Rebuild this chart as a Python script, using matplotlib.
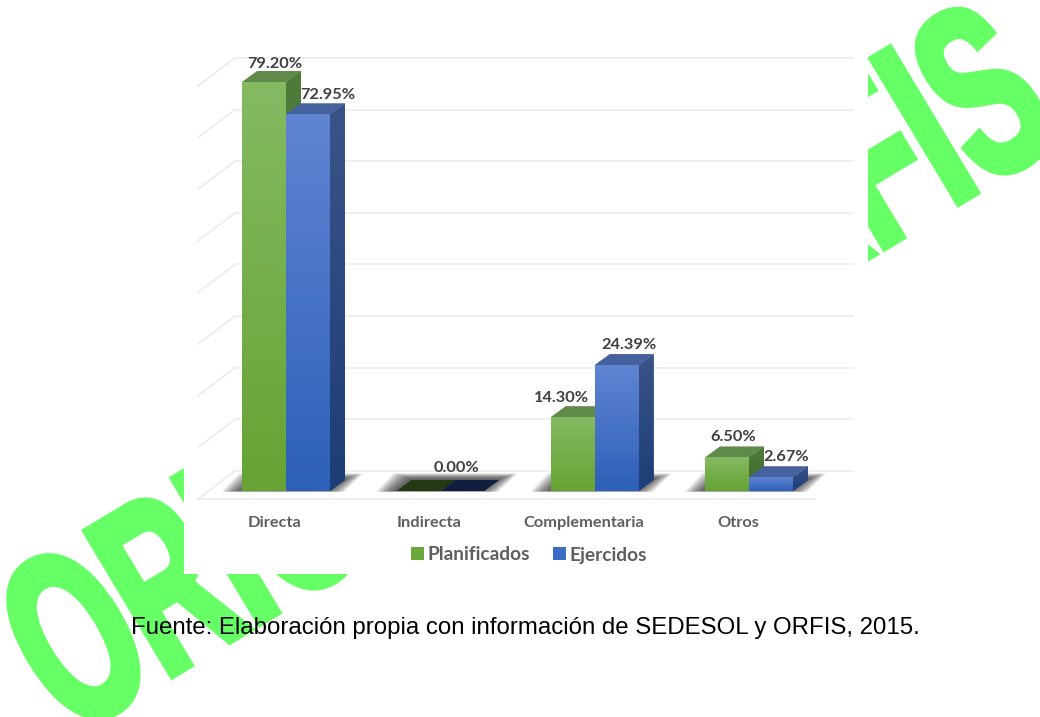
import numpy as np
from matplotlib import pyplot as plt
from matplotlib.colors import LinearSegmentedColormap
from matplotlib.patches import Polygon, Rectangle
from matplotlib.patheffects import AbstractPathEffect
from matplotlib.transforms import Affine2D

categories = ["Directa", "Indirecta", "Complementaria", "Otros"]
planificados = [79.20, 0.00, 14.30, 6.50]
ejercidos = [72.95, 0.00, 24.39, 2.67]
series_names = ["Planificados", "Ejercidos"]
grid_ticks = [0, 10, 20, 30, 40, 50, 60, 70, 80]
caption = "Fuente: Elaboración propia con información de SEDESOL y ORFIS, 2015."
watermark = "ORIGINAL ORFIS"

# scale of the picture, pixels per category and per percent
PX_X = 154.33
PX_Y = 5.164
W, H = 1040, 717
X0, Y0 = 286, 491

BAR_W = 44 / PX_X
DEPTH_X = 15 / PX_X
DEPTH_Y = 11 / PX_Y

GREEN = {"top": "#5f8a4a", "side": ("#4f7c3a", "#3f6a2a"), "front": ("#84ba62", "#66a334"), "zero": "#233a14"}
BLUE = {"top": "#46629e", "side": ("#3a5488", "#1d3d78"), "front": ("#5f84d2", "#2d60b8"), "zero": "#111f3f"}
GRID = "#ececec"
WM_GREEN = "#66ff66"
LABEL = "#404040"
AXIS_TEXT = "#5f5f5f"
FONT = "Lato"


class StretchedText(AbstractPathEffect):
    # WordArt style text: squeezed along the baseline and thickened
    def __init__(self, sx, stroke):
        super().__init__()
        self.sx = sx
        self.stroke = stroke

    def draw_path(self, renderer, gc, tpath, affine, rgbFace=None):
        gc0 = renderer.new_gc()
        gc0.copy_properties(gc)
        gc0.set_linewidth(self.stroke)
        gc0.set_foreground(rgbFace)
        gc0.set_joinstyle("miter")
        renderer.draw_path(gc0, tpath, Affine2D().scale(self.sx, 1) + affine, rgbFace)
        gc0.restore()


def gradient(ax, clip, x0, x1, y0, y1, top, bottom, zorder):
    cmap = LinearSegmentedColormap.from_list("g", [bottom, top])
    im = ax.imshow(np.linspace(1, 0, 64).reshape(-1, 1), cmap=cmap, vmin=0, vmax=1,
                   extent=(x0, x1, y0, y1), aspect="auto", zorder=zorder)
    im.set_clip_path(clip)


def shadow(ax, left, right):
    # soft dark footprint on the floor
    n = 14
    for k in range(n):
        pad_x = (n - k) * 1.3 / PX_X
        pad_y = (n - k) * 0.4 / PX_Y
        pts = [(left - pad_x - 2 / PX_X, -pad_y * 0.15), (right + pad_x - 4 / PX_X, -pad_y * 0.15),
               (right + pad_x + DEPTH_X, DEPTH_Y * 1.1 + pad_y), (left - pad_x + DEPTH_X, DEPTH_Y * 1.1 + pad_y)]
        ax.add_patch(Polygon(pts, closed=True, fc="#202020", ec="none", alpha=0.075, zorder=2))


def bar_3d(ax, x, val, style, zorder):
    top = [(x, val), (x + BAR_W, val), (x + BAR_W + DEPTH_X, val + DEPTH_Y), (x + DEPTH_X, val + DEPTH_Y)]
    if val == 0:
        ax.add_patch(Polygon(top, closed=True, fc=style["zero"], ec="none", zorder=zorder))
        return
    side = [(x + BAR_W, 0), (x + BAR_W + DEPTH_X, DEPTH_Y), (x + BAR_W + DEPTH_X, val + DEPTH_Y), (x + BAR_W, val)]
    side_patch = Polygon(side, closed=True, fc=style["side"][1], ec="none", zorder=zorder)
    ax.add_patch(side_patch)
    gradient(ax, side_patch, x + BAR_W, x + BAR_W + DEPTH_X, 0, val + DEPTH_Y, style["side"][0], style["side"][1], zorder + 0.1)
    ax.add_patch(Polygon(top, closed=True, fc=style["top"], ec="none", zorder=zorder + 0.2))
    front = ax.bar(x, val, BAR_W, align="edge", color=style["front"][1], zorder=zorder + 0.3)[0]
    gradient(ax, front, x, x + BAR_W, 0, val, style["front"][0], style["front"][1], zorder + 0.4)


fig = plt.figure(figsize=(W / 100, H / 100), dpi=100)

# background layer in pixels: watermark, white chart panel and caption
bg = fig.add_axes([0, 0, 1, 1], zorder=0)
bg.set_xlim(0, W)
bg.set_ylim(H, 0)
bg.axis("off")
bg.text(70, 737, watermark, color=WM_GREEN, fontsize=176, fontweight="bold", family="Liberation Sans",
        rotation=31, rotation_mode="anchor", ha="left", va="baseline", clip_on=False, zorder=1,
        path_effects=[StretchedText(0.579, 5.2)])
bg.add_patch(Rectangle((184, 0), 684, 574, fc="white", ec="none", zorder=2))
bg.text(131, 628, caption, color="black", fontsize=17.3, family="Liberation Sans", ha="left", va="center", zorder=3)

# chart layer, data units
ax = fig.add_axes([0, 0, 1, 1], zorder=1)
ax.patch.set_alpha(0)
ax.axis("off")

wall_dx, wall_dy = 37 / PX_X, 28 / PX_Y
wall_y = 20 / PX_Y
x_left = (198 - X0) / PX_X
x_right = (853 - X0) / PX_X
for g in grid_ticks:
    y = g + wall_y
    ax.plot([x_left + wall_dx, x_right], [y, y], color=GRID, lw=1.2, zorder=1)
    ax.plot([x_left, x_left + wall_dx], [y - wall_dy, y], color=GRID, lw=1.2, zorder=1)
ax.plot([x_left, (815 - X0) / PX_X], [wall_y - wall_dy, wall_y - wall_dy], color=GRID, lw=1.2, zorder=1)

for i in range(len(categories)):
    shadow(ax, i - BAR_W, i + BAR_W)
    bar_3d(ax, i - BAR_W, planificados[i], GREEN, 3)
    bar_3d(ax, i, ejercidos[i], BLUE, 4)

# label offsets from the front top centre of each bar, in pixels
green_dx = [11, 0, -11, 6]
blue_dx = [20, -6, 12, 15]
green_dy = [18, 0, 19, 20]
blue_dy = [19, 23, 20, 20]
for i, (p, e) in enumerate(zip(planificados, ejercidos)):
    if p != 0:
        ax.annotate(f"{p:.2f}%", (i - BAR_W / 2, p), xytext=(green_dx[i], green_dy[i]), textcoords="offset pixels",
                    ha="center", va="center", color=LABEL, fontsize=11.8, fontweight="bold", family=FONT, zorder=8)
    ax.annotate(f"{e:.2f}%", (i + BAR_W / 2, e), xytext=(blue_dx[i], blue_dy[i]), textcoords="offset pixels",
                ha="center", va="center", color=LABEL, fontsize=11.8, fontweight="bold", family=FONT, zorder=8)

for i, name in enumerate(categories):
    ax.annotate(name, (i, 0), xytext=(-11, -32), textcoords="offset pixels", ha="center", va="center",
                color=AXIS_TEXT, fontsize=11.8, fontweight="bold", family=FONT)

handles = [Rectangle((0, 0), 1, 1, fc="#6aa83a", ec="none"), Rectangle((0, 0), 1, 1, fc="#3a6cc8", ec="none")]
leg = ax.legend(handles, series_names, ncol=2, loc="center", bbox_to_anchor=(529 / W, 1 - 555 / H), frameon=False,
                handlelength=0.68, handleheight=0.68, handletextpad=0.2, columnspacing=1.2,
                prop={"family": FONT, "weight": "bold", "size": 13.8})
for t in leg.get_texts():
    t.set_color(AXIS_TEXT)

ax.set_xlim(-X0 / PX_X, (W - X0) / PX_X)
ax.set_ylim(-(H - Y0) / PX_Y, Y0 / PX_Y)

fig.savefig("out.png", dpi=100)
